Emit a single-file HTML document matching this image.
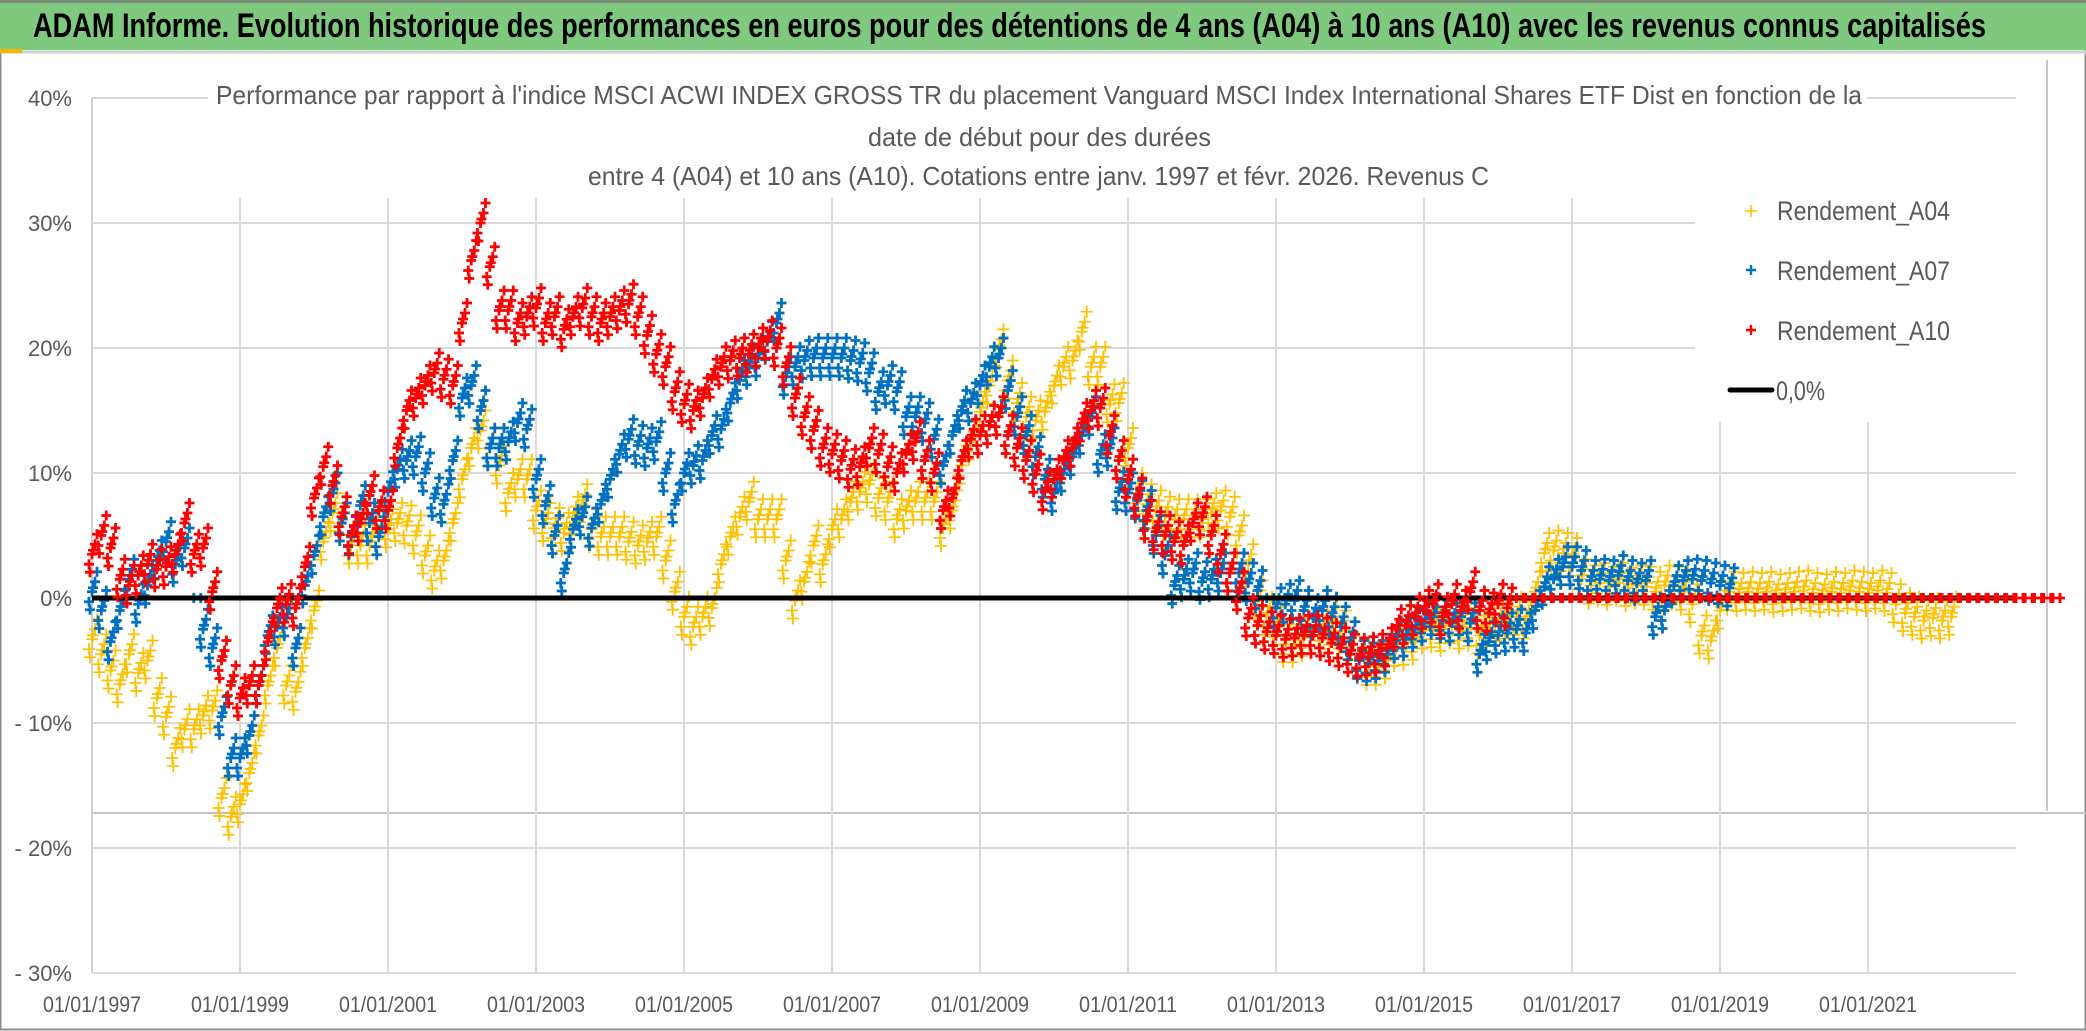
<!DOCTYPE html>
<html><head><meta charset="utf-8"><style>
html,body{margin:0;padding:0;background:#fff;}
svg{display:block;}
text{font-family:"Liberation Sans",sans-serif;}
</style></head><body>
<svg id="chart" width="2086" height="1031" viewBox="0 0 2086 1031" xmlns="http://www.w3.org/2000/svg">
<rect x="0" y="0" width="2086" height="1031" fill="#fff"/>
<rect x="0.5" y="0.5" width="2085" height="1029" fill="none" stroke="#8c8c8c" stroke-width="2"/>
<rect x="0" y="0" width="2086" height="50" fill="#7fc97f"/>
<line x1="0" y1="1.5" x2="2086" y2="1.5" stroke="#7a8a7a" stroke-width="3"/>
<line x1="0" y1="52" x2="2086" y2="52" stroke="#d0d0d0" stroke-width="3"/>
<rect x="0" y="49" width="22" height="4" fill="#f5b800"/>
<text x="33" y="37" font-size="34" font-weight="bold" fill="#000" textLength="1953" lengthAdjust="spacingAndGlyphs">ADAM Informe. Evolution historique des performances en euros pour des détentions de 4 ans (A04) à 10 ans (A10) avec les revenus connus capitalisés</text>
<line x1="2047" y1="60" x2="2047" y2="811" stroke="#c8c8c8" stroke-width="2"/>
<line x1="92" y1="813" x2="2086" y2="813" stroke="#c4c4c4" stroke-width="2"/>
<g id="grid"></g>
<g id="yaxis"></g>
<g id="xaxis"></g>
<g id="series"></g>
<g>
<text x="216" y="104" font-size="26" fill="#595959" textLength="1646" lengthAdjust="spacingAndGlyphs">Performance par rapport à l'indice MSCI ACWI INDEX GROSS TR  du placement Vanguard MSCI Index International Shares ETF Dist en fonction de la</text>
<text x="868" y="146" font-size="26" fill="#595959" textLength="343" lengthAdjust="spacingAndGlyphs">date de début pour des durées</text>
<text x="588" y="185" font-size="26" fill="#595959" textLength="901" lengthAdjust="spacingAndGlyphs">entre 4 (A04) et 10 ans (A10). Cotations entre janv. 1997 et févr. 2026. Revenus C</text>
</g>
<g id="legend">
<g>
<path d="M1745 211H1757M1751 205V217" stroke="#FFC000" stroke-width="1.6"/>
<text x="1777" y="220" font-size="27" fill="#595959" textLength="173" lengthAdjust="spacingAndGlyphs">Rendement_A04</text></g>
<g>
<path d="M1746 270H1756M1751 265V275" stroke="#0070C0" stroke-width="2.4"/>
<text x="1777" y="280" font-size="27" fill="#595959" textLength="173" lengthAdjust="spacingAndGlyphs">Rendement_A07</text></g>
<g>
<path d="M1746 330H1756M1751 325V335" stroke="#FF0000" stroke-width="2.4"/>
<text x="1777" y="340" font-size="27" fill="#595959" textLength="173" lengthAdjust="spacingAndGlyphs">Rendement_A10</text></g>
<g>
<line x1="1730" y1="390" x2="1772" y2="390" stroke="#000" stroke-width="5" stroke-linecap="round"/>
<text x="1776" y="400" font-size="27" fill="#595959" textLength="49" lengthAdjust="spacingAndGlyphs">0,0%</text></g>
</g>
</svg>
<script>
const startYear = 1997;
const stepYears = 0.125;
const yTicks = [40, 30, 20, 10, 0, -10, -20, -30];
const yTickLabels = ["40%", "30%", "20%", "10%", "0%", "- 10%", "- 20%", "- 30%"];
const xTicks = [1997, 1999, 2001, 2003, 2005, 2007, 2009, 2011, 2013, 2015, 2017, 2019, 2021];
const xTickLabels = ["01/01/1997","01/01/1999","01/01/2001","01/01/2003","01/01/2005","01/01/2007","01/01/2009","01/01/2011","01/01/2013","01/01/2015","01/01/2017","01/01/2019","01/01/2021"];
const zeroLine = [0, 0];
const rendementA04 = [
-3.3,-4.5,-5.8,-6.9,-4.5,-6,-5,-8,
-9.5,-12,-10.5,-10.5,-9.4,-9,-16,-17.5,
-16.5,-14,-11,-7,-4,-7,-7.5,-4,
-1,4.5,6.8,6.5,4.2,4.2,4.2,4.9,
5.5,6,5.8,5,3.4,2.2,3,6,
9.5,12,13.4,12,10.6,8.4,9.5,9.5,
7,6,5.6,5.2,6.5,7.5,5.5,4.9,
4.9,4.9,4.5,4.2,4.5,4.9,3,0.5,
-1.5,-2.3,-1.5,-0.8,2.7,4.9,6.5,7.7,
6.3,6.3,6.3,3,-0.2,1.3,4.2,2.7,
5.5,6.3,7.7,8.5,9.1,8,7.7,6.3,
7,7.7,7.7,7.7,5.6,7,10.6,12.5,
14.9,17,19.9,17.4,15.6,14.5,14.2,14.9,
17,18.5,19,21.3,18.5,18.5,15.5,15.6,
12,8.4,7.5,7,6.5,6.3,6.3,6.3,
6.3,6.8,7,6.5,5,2.7,-0.2,-1.5,
-2.3,-3.7,-3.7,-3.2,-3,-2.6,-2.3,-2.6,
-3.5,-5,-5.5,-5.5,-5,-4,-3.9,-3.5,
-2.6,-2.5,-2.8,-2.2,-2.6,-2.4,-3,-2.4,
-2,-1.8,-1.5,-1.8,0.5,3.6,3.8,3.6,
3.2,1.5,1,1.2,0.9,1.2,0.8,1,
0.9,0.5,1,0.9,0.5,-0.5,-3,-3.4,
-1,0.5,0.4,0.5,0.4,0.5,0.3,0.4,
0.5,0.6,0.4,0.3,0.5,0.4,0.6,0.5,
0.4,0.6,0.4,-0.5,-1.2,-1.5,-1.8,-1.6,
-1.8,-1.5];
const rendementA07 = [
0.5,-1,-3.5,-1,1.5,-0.5,1,3,
4.5,2.7,4,0,-2.5,-4,-9.5,-12.8,
-12.8,-11,-7,-3,-2.3,-1.6,-4,1,
3.4,6.5,8.4,6,4.9,7.4,6,4.9,
8.5,10.3,11,11.3,10,8,7.5,11,
16,17,15,12,12,12.5,14,13.5,
9.5,7.4,5,2,5.5,6.5,5.6,7.5,
9.5,11.5,12.7,12.2,12,12.5,10,7.5,
10,10.6,11,13,13.5,15.6,17.4,18.5,
19.2,20.5,22,17.7,18.5,19,19.2,19.2,
19.2,19.2,19,18.8,18,16.5,17,16.5,
14.5,14.5,14,12.7,10.6,13,15,15.6,
17,18.5,19.2,16.6,14.5,13,11.3,9.5,
8.4,10,11.3,13,14.5,11.5,12,8.5,
8.4,7.8,7,5,3.4,1,1.5,2,
1.3,1.5,2,2,2,1.2,0.6,0,
-0.8,-0.5,-0.2,-1,-1.6,-1,-1.5,-2.3,
-3.5,-5,-5.2,-5,-4.5,-3.4,-3.2,-2.5,
-2,-1.5,-1.8,-2,-1.5,-2,-4.5,-3.5,
-3,-2.8,-2.5,-2.8,-1,0.9,1.5,2.5,
2.5,2.2,1.4,1.5,1.4,1.8,1.4,1.2,
1.4,-1.5,-1,1,1.4,1.5,1.4,1.2,
1,0.8];
const rendementA10 = [
3.5,5,4,1.5,1,1.8,2.7,2.3,
2.5,3.5,6,3.5,4,0.5,-5,-7,
-8,-7,-7,-3.5,-0.8,-0.5,-0.8,2.5,
8,10.5,9,6.5,5,6,8.2,7,
7,12,15,16,17,18,17.5,17,
22,27,30,26.5,23,23,22,22.5,
23.2,22,22.5,21.5,22.5,23.2,22.5,22,
22.5,23,23.5,22.5,21,19.5,18.5,16.5,
15.5,15,16,17.5,18.5,19,19.2,19.5,
20,20.6,20,18.5,16,14.5,13.4,12,
11.5,11,10.3,10.5,12,11.5,10.5,10,
11.5,12.5,11,10,7,8,11,12.7,
13,13.8,14.5,13,12,11,9.9,8.5,
9.5,11,12,14,15,15.2,13,11,
9.5,8,6.2,5.3,5,4.5,4.2,6,
6.5,5,3.5,2,0.5,-1.6,-2.2,-2.7,
-3,-3.3,-3.2,-3,-3,-3.2,-3.6,-4,
-4.5,-4.8,-4.7,-4.5,-4,-2.5,-2.2,-1.5,
-1,-0.5,-1.5,-0.5,-1,0.5,-1,-1.2,
-0.5,-0.8,0,0,0,0,0,0,
0,0,0,0,0,0,0,0,
0,0,0,0,0,0,0,0,
0,0,0,0,0,0,0,0,
0,0,0,0,0,0,0,0,
0,0,0,0,0,0,0,0,
0,0,0,0,0,0,0,0,
0,0,0,0,0];

const NS = "http://www.w3.org/2000/svg";
const X0 = 92, X1 = 2016, YEAR0 = 1997, YEAR1 = 2023;
const Y0 = 598, PX_PER_PCT = 12.5;
// visual scatter spread around each sampled value (pixel offsets; style only)
const SPREAD_DX = [0, 3, -3, 5, -2, 1];
const SPREAD_DY = [0, -10, 10, -20, 18, -4];
function xScale(year){ return X0 + (year - YEAR0) * (X1 - X0) / (YEAR1 - YEAR0); }
function yScale(v){ return Y0 - v * PX_PER_PCT; }
function mk(tag, attrs, parent){
  const el = document.createElementNS(NS, tag);
  for (const k in attrs) el.setAttribute(k, attrs[k]);
  parent.appendChild(el);
  return el;
}
const grid = document.getElementById('grid');
const yaxis = document.getElementById('yaxis');
const xaxis = document.getElementById('xaxis');
const series = document.getElementById('series');

yTicks.forEach((t, i) => {
  const y = yScale(t);
  if (t === 40) {
    const a = mk('line', {x1:X0, y1:y, x2:208, y2:y, stroke:'#d9d9d9', 'stroke-width':2}, grid);
    
    
    const b = mk('line', {x1:1867, y1:y, x2:X1, y2:y, stroke:'#d9d9d9', 'stroke-width':2}, grid);
    
    
  } else {
    const end = (t === 30 || t === 20) ? 1695 : X1;
    const g = mk('line', {x1:X0, y1:y, x2:end, y2:y, stroke:'#d9d9d9', 'stroke-width':2}, grid);
    
    
  }
  const tx = mk('text', {x:72, y:y+8, 'font-size':22, fill:'#595959', 'text-anchor':'end'}, yaxis);
  tx.textContent = yTickLabels[i];
  
  
});
const axisLine = mk('line', {x1:X0, y1:yScale(40), x2:X0, y2:yScale(-30), stroke:'#d0d0d0', 'stroke-width':2}, grid);



xTicks.forEach((t, i) => {
  const x = xScale(t);
  if (i > 0) {
    const top = t >= 2019 ? 422 : 198;
    const g = mk('line', {x1:x, y1:top, x2:x, y2:yScale(-30), stroke:'#d9d9d9', 'stroke-width':2}, grid);
    
    
  }
  const tx = mk('text', {x:x, y:1012, 'font-size':22, fill:'#595959', 'text-anchor':'middle', textLength:98, lengthAdjust:'spacingAndGlyphs'}, xaxis);
  tx.textContent = xTickLabels[i];
  
  
});

function drawSeries(values, color, size, sw, name){
  const g = mk('g', {stroke:color, 'stroke-width':sw, fill:'none'}, series);
  
  
  let d = '';
  values.forEach((v, i) => {
    const cx = xScale(startYear + i * stepYears), cy = yScale(v);
    const n = v === 0 ? 2 : SPREAD_DX.length;
    for (let k = 0; k < n; k++) {
      const x = cx + SPREAD_DX[k] + (v === 0 ? k * 4 : 0);
      const y = cy + (v === 0 ? 0 : SPREAD_DY[k]);
      d += 'M' + (x - size) + ' ' + y + 'H' + (x + size) + 'M' + x + ' ' + (y - size) + 'V' + (y + size);
    }
  });
  const p = mk('path', {d:d}, g);
  
  
}
drawSeries(rendementA04, '#FFC000', 6, 1.8, 'series-a04');
drawSeries(rendementA07, '#0070C0', 5, 2.8, 'series-a07');
const zl = mk('line', {x1:X0, y1:yScale(zeroLine[0]), x2:X1, y2:yScale(zeroLine[1]), stroke:'#000', 'stroke-width':5}, series);


drawSeries(rendementA10, '#FF0000', 5, 2.8, 'series-a10');
</script>
</body></html>
